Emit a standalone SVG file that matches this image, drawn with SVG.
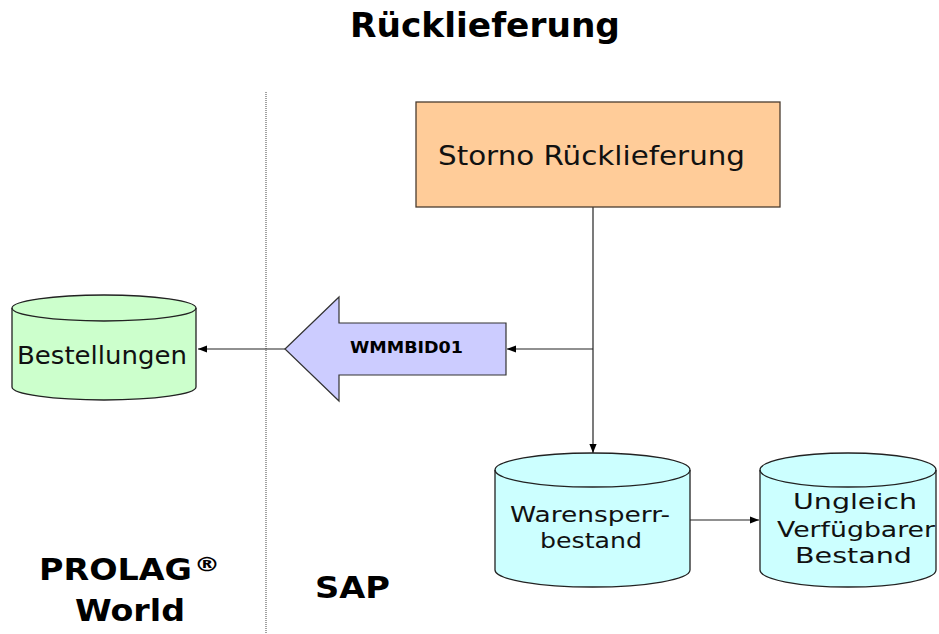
<svg xmlns="http://www.w3.org/2000/svg" width="939" height="634" viewBox="0 0 939 634">
<defs>
<marker id="ah" viewBox="0 0 10 10" refX="10" refY="5" markerWidth="9" markerHeight="9" markerUnits="userSpaceOnUse" orient="auto">
<path d="M0,1 L10,5 L0,9 z" fill="#000"/>
</marker>
<style>
.t{font-family:"DejaVu Sans","Liberation Sans",sans-serif;fill:#111}
.b{font-weight:bold;fill:#000}
.cyl{stroke:#222;stroke-width:1.3}
.con{stroke:#222;stroke-width:1.2;fill:none}
</style>
</defs>
<rect width="939" height="634" fill="#fff"/>
<text class="t b" x="350" y="37" font-size="33" textLength="270" lengthAdjust="spacingAndGlyphs">Rücklieferung</text>
<line x1="266" y1="92" x2="266" y2="634" stroke="#444" stroke-width="1" stroke-dasharray="1,1"/>
<g id="prolag">
<text class="t b" x="39" y="580" font-size="31" textLength="153" lengthAdjust="spacingAndGlyphs">PROLAG</text>
<text class="t b" x="194" y="571" font-size="19" textLength="26" lengthAdjust="spacingAndGlyphs">®</text>
<text class="t b" x="75" y="621" font-size="31" textLength="110" lengthAdjust="spacingAndGlyphs">World</text>
</g>
<g id="sap"><text class="t b" x="315" y="598" font-size="31" textLength="75" lengthAdjust="spacingAndGlyphs">SAP</text></g>
<g id="connectors">
<line class="con" x1="593" y1="207" x2="593" y2="453" marker-end="url(#ah)"/>
<line class="con" x1="593" y1="349" x2="507" y2="349" marker-end="url(#ah)"/>
<line class="con" x1="285" y1="349" x2="198" y2="349" marker-end="url(#ah)"/>
<line class="con" x1="690" y1="520" x2="759" y2="520" marker-end="url(#ah)"/>
</g>
<g id="storno">
<rect x="416" y="102" width="364" height="105" fill="#FFCC99" stroke="#4a3c30" stroke-width="1.3"/>
<text class="t" x="438" y="165" font-size="27" textLength="307" lengthAdjust="spacingAndGlyphs">Storno Rücklieferung</text>
</g>
<g id="wmmbid01">
<path d="M285,349 L339,297 L339,323 L506,323 L506,375 L339,375 L339,401 Z" fill="#CCCCFF" stroke="#333" stroke-width="1.2"/>
<text class="t b" x="350" y="353" font-size="16" textLength="113" lengthAdjust="spacingAndGlyphs">WMMBID01</text>
</g>
<g id="bestellungen">
<path class="cyl" d="M12,308 A92,13 0 0 1 196,308 L196,387 A92,13 0 0 1 12,387 Z" fill="#CCFFCC"/>
<path class="cyl" d="M12,308 A92,13 0 0 0 196,308" fill="none"/>
<text class="t" x="17" y="364" font-size="25" textLength="170" lengthAdjust="spacingAndGlyphs">Bestellungen</text>
</g>
<g id="warensperr">
<path class="cyl" d="M495,470 A97.5,17 0 0 1 690,470 L690,570 A97.5,17 0 0 1 495,570 Z" fill="#CCFFFF"/>
<path class="cyl" d="M495,470 A97.5,17 0 0 0 690,470" fill="none"/>
<text class="t" x="510" y="522" font-size="21.5" textLength="160" lengthAdjust="spacingAndGlyphs">Warensperr-</text>
<text class="t" x="540" y="548" font-size="21.5" textLength="102" lengthAdjust="spacingAndGlyphs">bestand</text>
</g>
<g id="ungleich">
<path class="cyl" d="M760,470 A88,17 0 0 1 936,470 L936,570 A88,17 0 0 1 760,570 Z" fill="#CCFFFF"/>
<path class="cyl" d="M760,470 A88,17 0 0 0 936,470" fill="none"/>
<text class="t" x="793" y="509" font-size="22" textLength="124" lengthAdjust="spacingAndGlyphs">Ungleich</text>
<text class="t" x="777" y="537" font-size="22" textLength="158" lengthAdjust="spacingAndGlyphs">Verfügbarer</text>
<text class="t" x="795" y="563" font-size="22" textLength="117" lengthAdjust="spacingAndGlyphs">Bestand</text>
</g>
</svg>
